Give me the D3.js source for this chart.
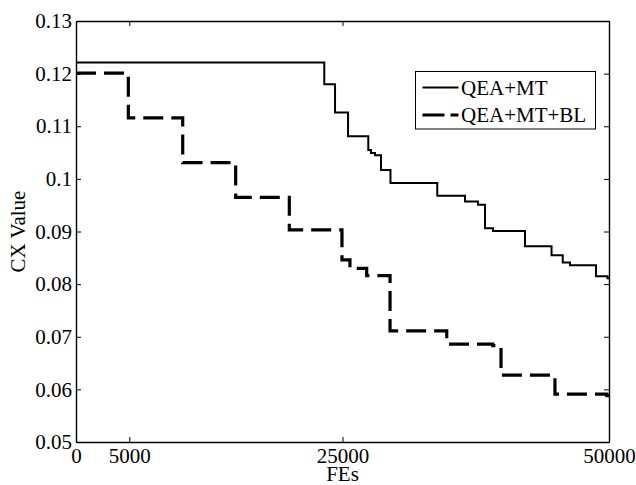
<!DOCTYPE html>
<html>
<head>
<meta charset="utf-8">
<script src="https://cdn.jsdelivr.net/npm/d3@7"></script>
<style>
  body { margin: 0; background: #fff; }
  svg { display: block; }
</style>
</head>
<body>
<svg id="chart" width="636" height="485"></svg>
<script>
// ---- data ----
const seriesNames = ["QEA+MT", "QEA+MT+BL"];
const fesMT = [0, 23290, 24300, 25520, 27420, 27670, 28050, 28610, 29500, 33890, 36490, 37710, 38370, 39120, 42120, 44610, 45660, 46340, 48780, 49860, 50000];
const cxMT  = [0.1221, 0.1180, 0.1126, 0.1081, 0.1055, 0.1049, 0.1045, 0.1017, 0.0992, 0.0968, 0.0957, 0.0951, 0.0906, 0.0901, 0.0872, 0.0855, 0.0841, 0.0836, 0.0815, 0.0811, 0.0811];
const fesBL = [0, 4910, 10010, 14980, 20010, 24950, 25700, 27270, 29460, 34780, 39100, 39500, 39870, 44930, 49800, 50000];
const cxBL  = [0.1201, 0.1116, 0.1031, 0.0965, 0.0903, 0.0846, 0.0830, 0.0816, 0.0711, 0.0686, 0.0683, 0.0680, 0.0627, 0.0591, 0.0588, 0.0588];
const xTicks = [0, 5000, 25000, 50000];
const yTicks = [0.05, 0.06, 0.07, 0.08, 0.09, 0.10, 0.11, 0.12, 0.13];
const yTickLabels = ["0.05", "0.06", "0.07", "0.08", "0.09", "0.1", "0.11", "0.12", "0.13"];
const xLabel = "FEs";
const yLabel = "CX Value";

// ---- layout ----
const FONT = "Liberation Serif";
const svg = d3.select("#chart");
const L = 76, R = 609, T = 21, B = 442;
const x = d3.scaleLinear().domain([0, 50000]).range([L, R]);
const y = d3.scaleLinear().domain([0.05, 0.13]).range([B, T]);
const fs = 21;

function tstyle(sel) {
  sel.style("font-family", FONT).style("font-size", fs + "px").style("fill", "#000");
}

// lines
const line = d3.line().x(d => x(d[0])).y(d => y(d[1])).curve(d3.curveStepAfter);
const dataMT = fesMT.map((f, i) => [f, cxMT[i]]);
const dataBL = fesBL.map((f, i) => [f, cxBL[i]]);

svg.append("path").datum(dataMT).attr("d", line)
  .attr("fill", "none").attr("stroke", "#000").attr("stroke-width", 2);
svg.append("path").datum(dataBL).attr("d", line)
  .attr("fill", "none").attr("stroke", "#000").attr("stroke-width", 3.2)
  .attr("stroke-dasharray", "20,8");

// axes (box with inward ticks on all sides)
const tickLen = 5;
const axB = d3.axisBottom(x).tickValues(xTicks).tickSizeInner(-tickLen).tickSizeOuter(0).tickFormat(d3.format("d"));
const axT = d3.axisTop(x).tickValues(xTicks).tickSizeInner(-tickLen).tickSizeOuter(0).tickFormat("");
const axLft = d3.axisLeft(y).tickValues(yTicks).tickSizeInner(-tickLen).tickSizeOuter(0).tickFormat((d, i) => yTickLabels[i]);
const axRt = d3.axisRight(y).tickValues(yTicks).tickSizeInner(-tickLen).tickSizeOuter(0).tickFormat("");

function style(g) {
  g.attr("font-family", FONT).attr("font-size", fs);
  g.select(".domain").attr("stroke", "#000").attr("stroke-width", 1.4).attr("fill", "none");
  g.selectAll(".tick line").attr("stroke", "#000").attr("stroke-width", 1);
  g.selectAll("text").call(tstyle);
}
const gB = svg.append("g").attr("transform", `translate(0,${B})`).call(axB).call(style);
gB.selectAll(".tick text").attr("dy", null).attr("y", 21);
svg.append("g").attr("transform", `translate(0,${T})`).call(axT).call(style);
const gL = svg.append("g").attr("transform", `translate(${L},0)`).call(axLft).call(style);
gL.selectAll(".tick text").attr("x", -4).attr("dy", "0.32em");
svg.append("g").attr("transform", `translate(${R},0)`).call(axRt).call(style);

// axis labels
svg.append("text").attr("x", (L + R) / 2).attr("y", 481).attr("text-anchor", "middle")
  .call(tstyle).text(xLabel);
svg.append("text").attr("transform", `translate(25,${(T + B) / 2}) rotate(-90)`)
  .attr("text-anchor", "middle").call(tstyle).text(yLabel);

// legend
const lg = svg.append("g");
lg.append("rect").attr("x", 415.5).attr("y", 71.5).attr("width", 180).attr("height", 57.5)
  .attr("fill", "#fff").attr("stroke", "#000").attr("stroke-width", 1);
const rows = [
  { name: seriesNames[0], w: 2, dash: null, yy: 87.5 },
  { name: seriesNames[1], w: 3.2, dash: "22,6", yy: 115 }
];
rows.forEach(r => {
  const l = lg.append("line").attr("x1", 422.5).attr("x2", 458.5).attr("y1", r.yy).attr("y2", r.yy)
    .attr("stroke", "#000").attr("stroke-width", r.w);
  if (r.dash) l.attr("stroke-dasharray", r.dash);
  lg.append("text").attr("x", 461).attr("y", r.yy).attr("dy", "0.35em")
    .call(tstyle).text(r.name);
});
</script>
</body>
</html>
